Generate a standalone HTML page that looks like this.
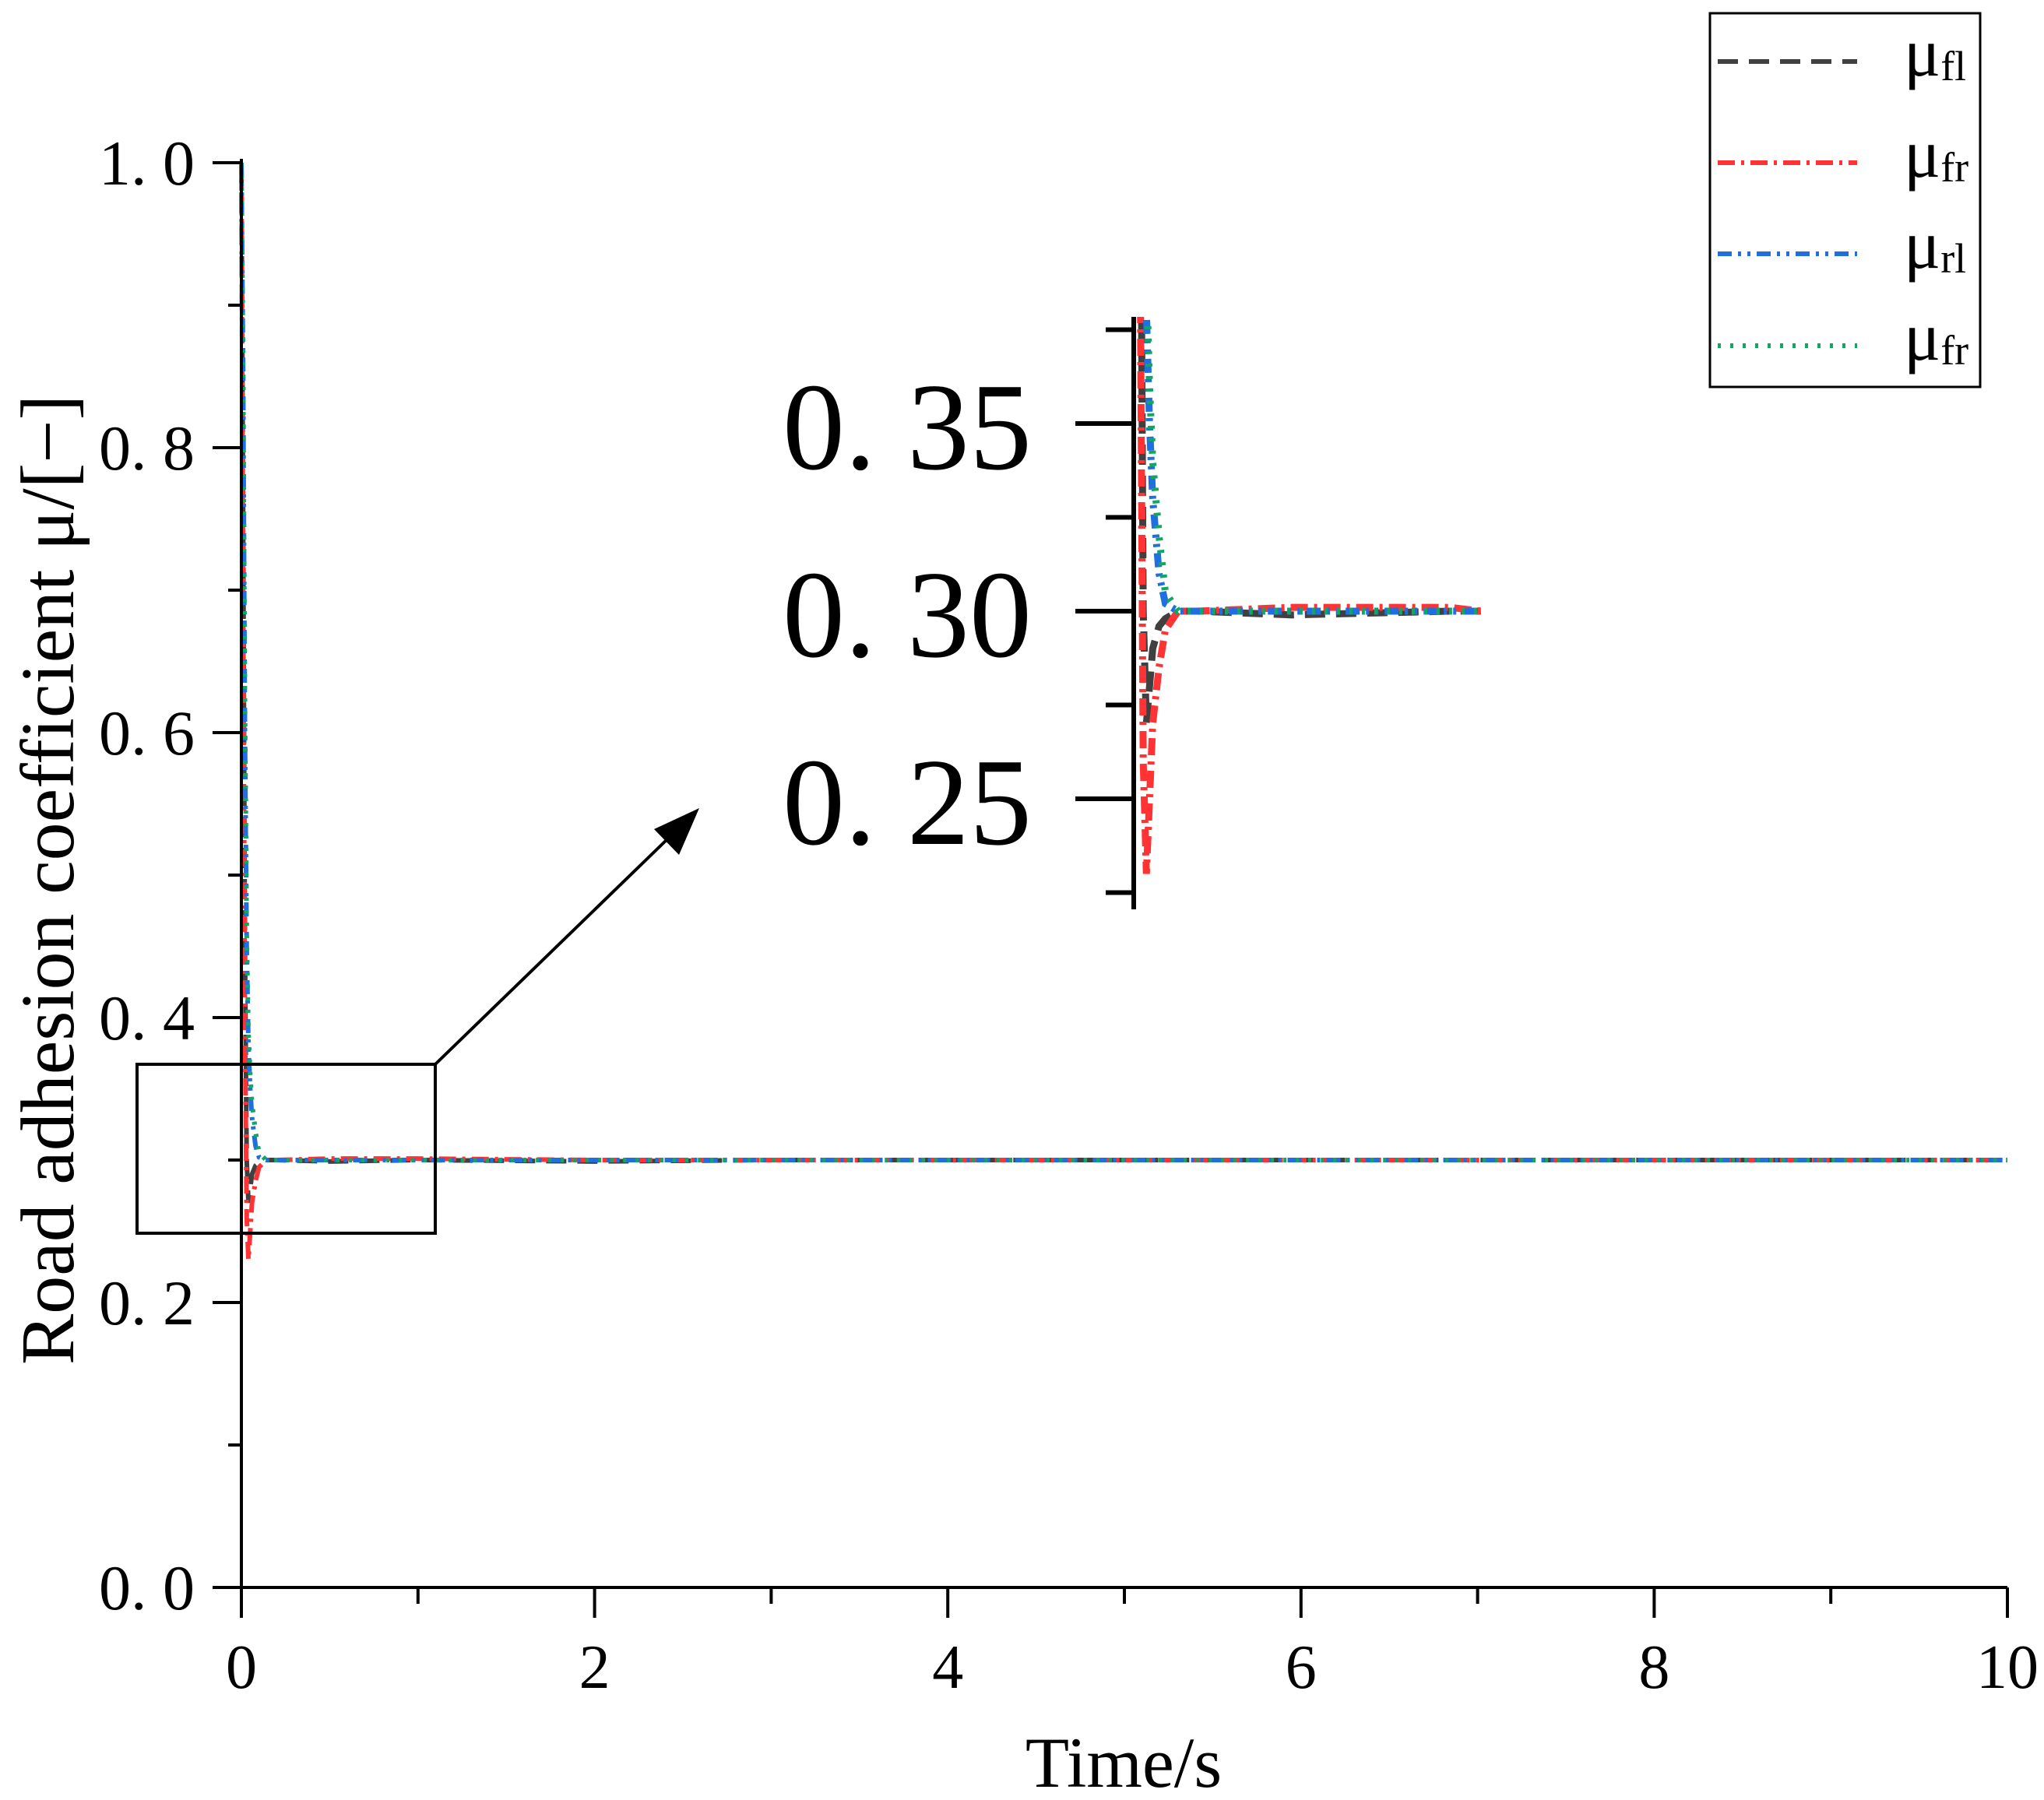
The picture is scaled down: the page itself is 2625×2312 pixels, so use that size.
<!DOCTYPE html>
<html><head><meta charset="utf-8"><style>
html,body{margin:0;padding:0;background:#fff;}
svg{display:block;font-family:"Liberation Serif","Noto Serif CJK SC",serif;}
</style></head><body>
<svg id="chart" width="2625" height="2312" viewBox="0 0 2625 2312" xmlns="http://www.w3.org/2000/svg">
<g id="main"></g>
<g id="inset"></g>
<g id="legend"></g>
</svg>
<script>
const times = [0,0.01,0.02,0.03,0.04,0.05,0.06,0.08,0.1,0.14,0.2,0.5,1,2,3,4,5,6,7,8,9,10];
const seriesFL = [1.0,0.75,0.45,0.30,0.27,0.28,0.29,0.296,0.298,0.3,0.3,0.299,0.3,0.299,0.3,0.3,0.3,0.3,0.3,0.3,0.3,0.3];
const seriesFR = [1.0,0.70,0.40,0.26,0.23,0.25,0.27,0.285,0.295,0.3,0.3,0.301,0.301,0.3,0.3,0.3,0.3,0.3,0.3,0.3,0.3,0.3];
const seriesRL = [1.0,0.85,0.60,0.45,0.38,0.35,0.33,0.31,0.302,0.3,0.3,0.3,0.3,0.3,0.3,0.3,0.3,0.3,0.3,0.3,0.3,0.3];
const seriesRR = [1.0,0.85,0.62,0.46,0.39,0.36,0.34,0.32,0.305,0.3,0.3,0.3,0.3,0.3,0.3,0.3,0.3,0.3,0.3,0.3,0.3,0.3];
const seriesNames = ["μfl","μfr","μrl","μfr"];
const xTicks = [0,2,4,6,8,10];
const yTicks = [0.0,0.2,0.4,0.6,0.8,1.0];
const yTickLabels = ["0. 0","0. 2","0. 4","0. 6","0. 8","1. 0"];
const insetTicks = [0.25,0.30,0.35];
const insetTickLabels = ["0. 25","0. 30","0. 35"];

const NS="http://www.w3.org/2000/svg";
function mk(parent,tag,attrs,text){const e=document.createElementNS(NS,tag);for(const k in attrs)e.setAttribute(k,attrs[k]);if(text!==undefined)e.textContent=text;parent.appendChild(e);return e;}
const X0=310,X1=2578,Y0=2039,Y1=209;
const sx=t=>X0+(X1-X0)*t/10;
const sy=v=>Y0-(Y0-Y1)*v;
const styles=[
 {c:"#404040",d:"26 14"},
 {c:"#ff3333",d:"22 8 4 8"},
 {c:"#1f6fe0",d:"18 8 4 8 4 8"},
 {c:"#10a860",d:"4 12"}
];
const all=[seriesFL,seriesFR,seriesRL,seriesRR];
const main=document.getElementById('main');
all.forEach((s,i)=>{
 const p=mk(main,'polyline',{points:s.map((v,j)=>sx(times[j])+','+sy(v)).join(' '),fill:'none',stroke:styles[i].c,'stroke-width':6,'stroke-dasharray':styles[i].d});
 
 
});
let ax=mk(main,'line',{x1:X0,y1:Y1-5,x2:X0,y2:Y0,stroke:'#000','stroke-width':4});

ax=mk(main,'line',{x1:X0,y1:Y0,x2:X1,y2:Y0,stroke:'#000','stroke-width':4});

yTicks.forEach((v,i)=>{
 mk(main,'line',{x1:273,y1:sy(v),x2:X0,y2:sy(v),stroke:'#000','stroke-width':4});
 const t=mk(main,'text',{x:250,y:sy(v)+28,'text-anchor':'end','font-size':82},yTickLabels[i]);
 
 if(i<yTicks.length-1) mk(main,'line',{x1:293,y1:sy(v+0.1),x2:X0,y2:sy(v+0.1),stroke:'#000','stroke-width':4});
});
xTicks.forEach((v,i)=>{
 mk(main,'line',{x1:sx(v),y1:Y0,x2:sx(v),y2:2078,stroke:'#000','stroke-width':4});
 const t=mk(main,'text',{x:sx(v),y:2168,'text-anchor':'middle','font-size':80},String(v));
 
 if(i<xTicks.length-1) mk(main,'line',{x1:sx(v+1),y1:Y0,x2:sx(v+1),y2:2060,stroke:'#000','stroke-width':4});
});
let tt=mk(main,'text',{x:1443,y:2295,'text-anchor':'middle','font-size':92},'Time/s');

tt=mk(main,'text',{x:0,y:0,'text-anchor':'middle','font-size':98,transform:'translate(94,1130) rotate(-90)'},'Road adhesion coefficient μ/[−]');

let r=mk(main,'rect',{x:176,y:1367,width:383,height:217,fill:'none',stroke:'#000','stroke-width':4});

let a=mk(main,'line',{x1:559,y1:1367,x2:860,y2:1075,stroke:'#000','stroke-width':4});

mk(main,'polygon',{points:'898,1038 840,1065 872,1098',fill:'#000'});

const inset=document.getElementById('inset');
const IX0=1456, ITS=406;
const isx=t=>IX0+ITS*t;
const isy=v=>785-(v-0.30)*(241/0.05);
const defs=mk(inset,'defs',{});
const cp=mk(defs,'clipPath',{id:'ic'});
mk(cp,'rect',{x:1450,y:407,width:455,height:760});
all.forEach((s,i)=>{
 const pts=[];
 s.forEach((v,j)=>{ if(times[j]<=1.1) pts.push(isx(times[j])+','+isy(v)); });
 pts.push(isx(1.1)+','+isy(s[s.length-1]));
 const p=mk(inset,'polyline',{points:pts.join(' '),fill:'none',stroke:styles[i].c,'stroke-width':9,'stroke-dasharray':styles[i].d,'clip-path':'url(#ic)'});
 
 
});
let ia=mk(inset,'line',{x1:IX0,y1:407,x2:IX0,y2:1168,stroke:'#000','stroke-width':6});

insetTicks.forEach((v,i)=>{
 mk(inset,'line',{x1:1381,y1:isy(v),x2:IX0,y2:isy(v),stroke:'#000','stroke-width':6});
 const t=mk(inset,'text',{x:1325,y:isy(v)+58,'text-anchor':'end','font-size':160},insetTickLabels[i]);
 
});
[0.225,0.275,0.325,0.375].forEach(v=>{
 mk(inset,'line',{x1:1420,y1:isy(v),x2:IX0,y2:isy(v),stroke:'#000','stroke-width':6});
});

const lg=document.getElementById('legend');
mk(lg,'rect',{x:2196,y:17,width:347,height:480,fill:'#fff',stroke:'#000','stroke-width':3});
const ly=[79,209,326,444];
seriesNames.forEach((n,i)=>{
 const l=mk(lg,'line',{x1:2206,y1:ly[i],x2:2385,y2:ly[i],stroke:styles[i].c,'stroke-width':6,'stroke-dasharray':styles[i].d});
 
 const t=mk(lg,'text',{x:2445,y:ly[i]+18,'font-size':88});
 
 mk(t,'tspan',{},'μ');
 mk(t,'tspan',{'font-size':54,dy:6},n.slice(1));
});
</script>
</body></html>
